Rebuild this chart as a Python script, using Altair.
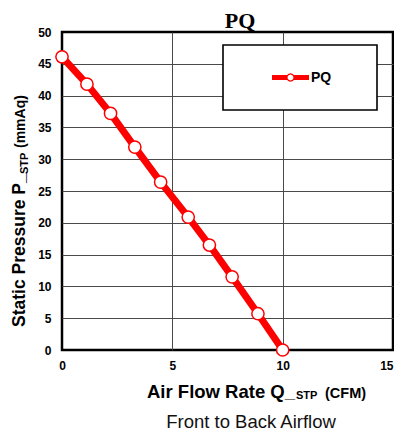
import math
import altair as alt
import pandas as pd

# ---- data ----
flow = [0.0, 1.13, 2.2, 3.3, 4.47, 5.72, 6.68, 7.71, 8.88, 10.0]
pressure = [46.1, 41.8, 37.2, 31.9, 26.4, 20.9, 16.5, 11.5, 5.7, 0.0]
series = ["PQ"] * len(flow)
x_ticks = [0, 5, 10, 15]
y_ticks = [0, 5, 10, 15, 20, 25, 30, 35, 40, 45, 50]

chart_title = "PQ"
x_title_main = "Air Flow Rate Q_"
x_title_sub = "STP"
x_title_unit = "(CFM)"
y_title_main = "Static Pressure P_"
y_title_sub = "STP"
y_title_unit = "(mmAq)"
caption = "Front to Back Airflow"

df = pd.DataFrame({"flow": flow, "pressure": pressure, "series": series})

W, H = 331, 318
RED = "#ff0000"
FONT = "Liberation Sans"


# legend glyph: thick line with a hollow circle in the middle (filled path)
def poly(r, n=28, reverse=False):
    idx = range(n, -1, -1) if reverse else range(n + 1)
    pts = [(r * math.cos(2 * math.pi * k / n), r * math.sin(2 * math.pi * k / n)) for k in idx]
    return "M%.4f,%.4f " % pts[0] + " ".join("L%.4f,%.4f" % p for p in pts[1:]) + " Z"


h, e = 0.13, 0.17
glyph = (
    f"M-1,{-h} L{-e},{-h} L{-e},{h} L-1,{h} Z "
    f"M{e},{-h} L1,{-h} L1,{h} L{e},{h} Z "
    + poly(0.227)
    + " "
    + poly(0.157, reverse=True)
    + " M0,-1 L0.001,-1 L0,-1 Z M0,1 L0.001,1 L0,1 Z"
)

nbsp = "\u00a0"
zwsp = "\u200b"
legend = alt.Legend(
    orient="none",
    legendX=161,
    legendY=13,
    title=nbsp,
    titleOrient="left",
    titleFontSize=1,
    titlePadding=35,
    padding=14,
    strokeColor="black",
    fillColor="white",
    symbolType=glyph,
    symbolSize=1369,
    symbolFillColor=RED,
    symbolStrokeColor="transparent",
    symbolStrokeWidth=0,
    labelFont=FONT,
    labelFontWeight="bold",
    labelFontSize=14,
    labelColor="black",
    labelOffset=2,
    labelOverlap=False,
    labelExpr="datum.label + '" + nbsp * 8 + zwsp + "'",
)

grid_color = lambda lo, hi: {
    "condition": {"test": f"datum.value === {lo} || datum.value === {hi}", "value": "transparent"},
    "value": "#4a4a4a",
}

axis_common = dict(
    title=None, grid=True, gridWidth=1, domain=False, ticks=False, tickSize=0,
    labelFlush=False, labelOverlap=False, labelFont=FONT, labelFontWeight="bold",
    labelFontSize=12, labelColor="black",
)

x_enc = alt.X(
    "flow:Q",
    scale=alt.Scale(domain=[0, 15], nice=False, zero=False),
    axis=alt.Axis(
        values=x_ticks, gridColor=grid_color(0, 15), labelPadding=10,
        labelAlign={"condition": {"test": "datum.value === 15", "value": "right"}, "value": "center"},
        **axis_common,
    ),
)
y_enc = alt.Y(
    "pressure:Q",
    scale=alt.Scale(domain=[0, 50], nice=False, zero=False),
    axis=alt.Axis(values=y_ticks, gridColor=grid_color(0, 50), labelPadding=11, **axis_common),
)

base = alt.Chart(df)
line = base.mark_line(strokeWidth=7, strokeJoin="round").encode(
    x=x_enc, y=y_enc,
    color=alt.Color("series:N", scale=alt.Scale(range=[RED]), legend=legend),
)
points = base.mark_point(
    shape="circle", filled=True, fill="white", stroke=RED, strokeWidth=1.5, size=150, opacity=1
).encode(x=x_enc, y=y_enc)


def label(text, x, y, size, font=FONT, weight="bold", angle=0, align="left", color="black"):
    d = pd.DataFrame({"t": [text]})
    kw = dict(font=font, fontSize=size, fontWeight=weight, align=align,
              baseline="alphabetic", color=color)
    if angle:
        kw["angle"] = angle
    return alt.Chart(d).mark_text(**kw).encode(
        text="t:N", x=alt.value(x), y=alt.value(y)
    )


texts = [
    label(chart_title, 178, -4, 22, font="Liberation Serif", align="center"),
    label(x_title_main, 85, 366, 18.5),
    label(x_title_sub, 234, 367, 11),
    label(x_title_unit, 263, 366, 14.5),
    label(y_title_main, -37, 295, 17.5, angle=270),
    label(y_title_sub, -34, 142, 11, angle=270),
    label(y_title_unit, -37, 116, 14, angle=270),
    label(caption, 189, 396, 18.5, weight="normal", align="center", color="#111111"),
]

chart = alt.layer(line, points, *texts).properties(
    width=W,
    height=H,
    autosize=alt.AutoSizeParams(type="none"),
    padding={"left": 54, "top": 24, "right": 1, "bottom": 84},
    background="white",
).configure_view(stroke="black", strokeWidth=2.5).configure_legend(strokeWidth=1.6)

chart.save("out.html", embed_options={"renderer": "svg", "actions": False})
